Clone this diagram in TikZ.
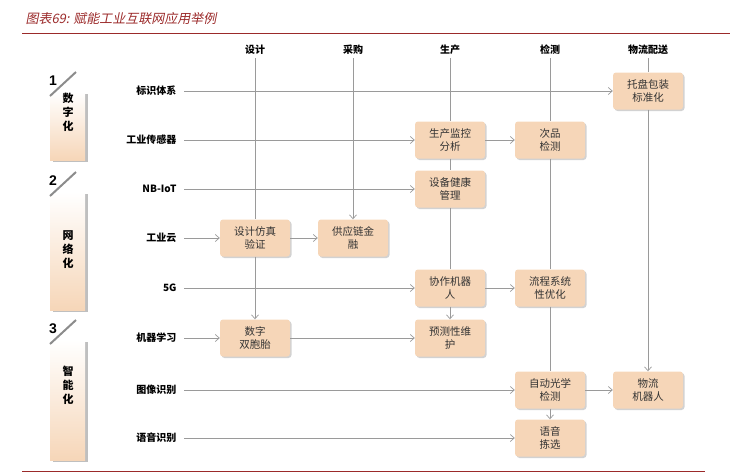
\documentclass[tikz,border=0pt]{standalone}
\usepackage{fontspec}
\setmainfont{Liberation Sans}
\newfontfamily\cjk{Noto Sans CJK SC}
\newfontfamily\cjkit[FakeSlant=0.2]{Noto Sans CJK SC}
\usetikzlibrary{arrows.meta,shadows}
\definecolor{boxfill}{HTML}{F6D6B8}
\definecolor{ln}{HTML}{9A9A9A}
\definecolor{title}{HTML}{9B2A2A}
\begin{document}
\begin{tikzpicture}[x=1pt,y=-1pt,
  box/.style={draw=none,fill=boxfill,rounded corners=3pt,minimum width=70pt,minimum height=37pt,
    align=center,font=\cjk\fontsize{10.5}{13}\selectfont,text=black!80,inner sep=1pt,
    drop shadow={shadow xshift=1.5pt,shadow yshift=-1.5pt,fill=black!35}},
  rowlab/.style={anchor=east,font=\cjk\bfseries\fontsize{10}{12}\selectfont},
  hdr/.style={font=\cjk\bfseries\fontsize{10}{12}\selectfont},
  conn/.style={draw=ln,line width=0.7pt},
  arr/.style={conn,-{Straight Barb[length=4pt,width=7pt]}},
  tabnum/.style={font=\bfseries\fontsize{14}{15}\selectfont},
  tabtxt/.style={font=\cjk\bfseries\fontsize{11}{14}\selectfont,align=center}]
\useasboundingbox (0,0) rectangle (730,474);
% title
\node[anchor=west,text=title,font=\cjkit\fontsize{13}{15}\selectfont] (t) at (22,19) {图表69: 赋能工业互联网应用举例};
\draw[title,line width=0.8pt] (22,33) coordinate (tl1) -- (730,33) coordinate (tl2);
\draw[title,line width=0.8pt] (22,471) coordinate (bl1) -- (705,471) coordinate (bl2);
% tabs
\foreach \n/\top/\bot/\txt/\ty in {1/72/160/数\\字\\化/112, 2/172/310/网\\络\\化/250, 3/320/460/智\\能\\化/385}{
  \fill[black!25] (53,\top+22) rectangle (88,\bot+2);
  \shade[top color=white,bottom color=boxfill] (50,\top+20) rectangle (85,\bot);
  \draw[black!45,line width=2pt] (50,\top+24) -- (76,\top);
  \node[tabnum] at (53,\top+9) {\n};
  \node[tabtxt] at (68,\ty) {\txt};
}
% headers
\foreach \nm/\x/\t in {h1/255/设计,h2/353/采购,h3/450/生产,h4/550/检测,h5/648/物流配送}
  \node[hdr] (\nm) at (\x,50) {\t};
% row labels
\foreach \nm/\y/\t in {r1/91/标识体系,r2/140/工业传感器,r3/189/NB-IoT,r4/238/工业云,r5/288/5G,r6/338/机器学习,r7/390/图像识别,r8/438/语音识别}
  \node[rowlab] (\nm) at (180,\y) {\t};
% boxes
\node[box] (tp) at (648,91) {托盘包装\\标准化};
\node[box] (sc) at (450,140) {生产监控\\分析};
\node[box] (cp) at (550,140) {次品\\检测};
\node[box] (sb) at (450,189) {设备健康\\管理};
\node[box] (fz) at (255,238) {设计仿真\\验证};
\node[box] (gy) at (353,238) {供应链金\\融};
\node[box] (xz) at (450,288) {协作机器\\人};
\node[box] (lc) at (550,288) {流程系统\\性优化};
\node[box] (sz) at (255,338) {数字\\双胞胎};
\node[box] (yc) at (450,338) {预测性维\\护};
\node[box] (zd) at (550,390) {自动光学\\检测};
\node[box] (wl) at (648,390) {物流\\机器人};
\node[box] (yy) at (550,438) {语音\\拣选};
% connectors
\draw[arr] (r1.east) ++(4,0) -- (tp.west);
\draw[arr] (r2.east) ++(4,0) -- (sc.west);
\draw[arr] (sc.east) -- (cp.west);
\draw[arr] (r3.east) ++(4,0) -- (sb.west);
\draw[arr] (r4.east) ++(4,0) -- (fz.west);
\draw[arr] (fz.east) -- (gy.west);
\draw[arr] (r5.east) ++(4,0) -- (xz.west);
\draw[arr] (xz.east) -- (lc.west);
\draw[arr] (r6.east) ++(4,0) -- (sz.west);
\draw[arr] (sz.east) -- (yc.west);
\draw[arr] (r7.east) ++(4,0) -- (zd.west);
\draw[arr] (zd.east) -- (wl.west);
\draw[arr] (r8.east) ++(4,0) -- (yy.west);
\draw[conn] (h1.south) -- (fz.north);
\draw[arr] (fz.south) -- (sz.north);
\draw[arr] (h2.south) -- (gy.north);
\draw[conn] (h3.south) -- (sc.north);
\draw[conn] (sc.south) -- (sb.north);
\draw[conn] (sb.south) -- (xz.north);
\draw[arr] (xz.south) -- (yc.north);
\draw[conn] (h4.south) -- (cp.north);
\draw[conn] (cp.south) -- (lc.north);
\draw[conn] (lc.south) -- (zd.north);
\draw[arr] (zd.south) -- (yy.north);
\draw[conn] (h5.south) -- (tp.north);
\draw[arr] (tp.south) -- (wl.north);
\end{tikzpicture}
\end{document}
